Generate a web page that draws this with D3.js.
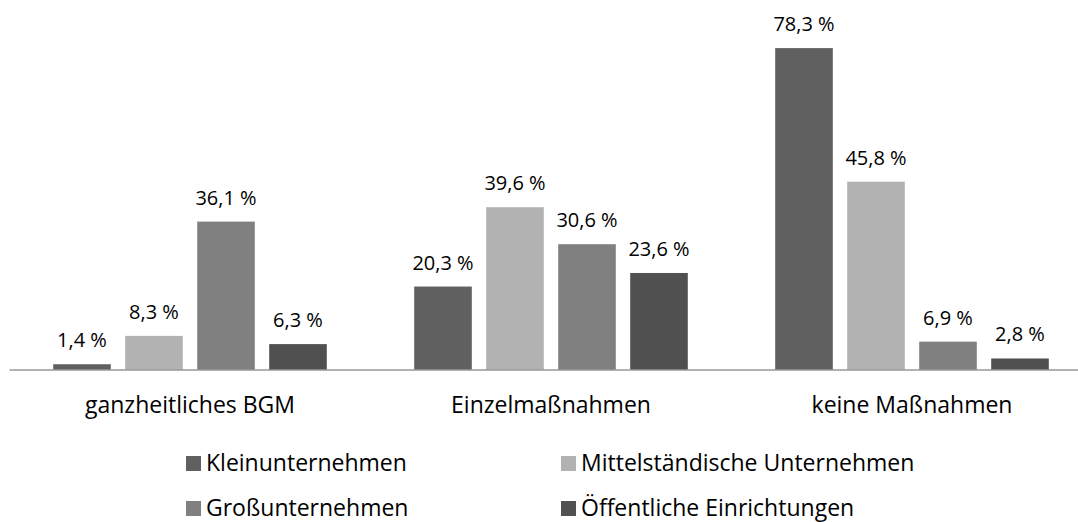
<!DOCTYPE html>
<html>
<head>
<meta charset="utf-8">
<script src="https://cdn.jsdelivr.net/npm/d3@7"></script>
<style>
  body { margin: 0; background: #fff; }
  svg { display: block; font-family: "Open Sans", sans-serif; }
</style>
</head>
<body>
<svg id="chart"></svg>
<script>
var categories = ["ganzheitliches BGM", "Einzelmaßnahmen", "keine Maßnahmen"]
var seriesNames = ["Kleinunternehmen", "Mittelständische Unternehmen", "Großunternehmen", "Öffentliche Einrichtungen"]
var kleinValues = [1.4, 20.3, 78.3]
var mittelValues = [8.3, 39.6, 45.8]
var grossValues = [36.1, 30.6, 6.9]
var oeffentlichValues = [6.3, 23.6, 2.8]
var seriesColors = ["#606060", "#b2b2b2", "#808080", "#505050"]

var seriesValues = [kleinValues, mittelValues, grossValues, oeffentlichValues]

var dimensions = {
    width: 1078,
    height: 522,
    margin: { top: 0, bottom: 152, left: 9.5, right: -14.5 }
}

var svg = d3.select("#chart")
            .attr("width", dimensions.width)
            .attr("height", dimensions.height)

var x0 = d3.scaleBand()
           .domain(categories)
           .range([dimensions.margin.left, dimensions.width - dimensions.margin.right])
           .padding(0)

var x1 = d3.scaleBand()
           .domain(seriesNames)
           .range([0, x0.bandwidth()])
           .paddingInner(0.2)
           .paddingOuter(0.607)

var yScale = d3.scaleLinear()
               .domain([0, 90])
               .range([dimensions.height - dimensions.margin.bottom, dimensions.margin.top])

var color = d3.scaleOrdinal().domain(seriesNames).range(seriesColors)

var rows = categories.map((c, i) => ({
    category: c,
    values: seriesNames.map((s, j) => ({ series: s, value: seriesValues[j][i] }))
}))

var groups = svg.append("g")
                .selectAll("g")
                .data(rows)
                .enter()
                .append("g")
                .attr("transform", d => `translate(${x0(d.category)},0)`)

groups.selectAll("rect")
      .data(d => d.values)
      .enter()
      .append("rect")
      .attr("x", d => x1(d.series))
      .attr("y", d => yScale(d.value))
      .attr("width", x1.bandwidth())
      .attr("height", d => yScale(0) - yScale(d.value))
      .attr("fill", d => color(d.series))

groups.selectAll("text")
      .data(d => d.values)
      .enter()
      .append("text")
      .attr("x", d => x1(d.series) + x1.bandwidth() / 2)
      .attr("y", d => yScale(d.value) - 17)
      .attr("text-anchor", "middle")
      .attr("font-size", 20)
      .attr("fill", "#000")
      .text(d => d3.format(".1f")(d.value).replace(".", ",") + " %")

// x axis: plain baseline with category labels
var xAxisGen = d3.axisBottom(x0).tickSize(0).tickPadding(0)
var xAxis = svg.append("g")
               .attr("transform", `translate(0,${yScale(0)})`)
               .call(xAxisGen)
xAxis.select(".domain")
     .attr("stroke", "#999")
     .attr("stroke-width", 1.5)
     .attr("d", `M${dimensions.margin.left},0H${dimensions.width}`)
xAxis.selectAll("text")
     .attr("font-family", "Open Sans")
     .attr("font-size", 23)
     .attr("fill", "#000")
     .attr("dy", null)
     .attr("y", 43)

// legend
var legendPos = [[186, 471], [561, 471], [186, 516], [561, 516]]
var legend = svg.append("g")
                .selectAll("g")
                .data(seriesNames)
                .enter()
                .append("g")
                .attr("transform", (d, i) => `translate(${legendPos[i][0]},${legendPos[i][1]})`)

legend.append("rect")
      .attr("x", 0)
      .attr("y", -15)
      .attr("width", 15)
      .attr("height", 15)
      .attr("fill", d => color(d))

legend.append("text")
      .attr("x", 20)
      .attr("y", 0)
      .attr("font-size", 23)
      .attr("fill", "#000")
      .text(d => d)
</script>
</body>
</html>
